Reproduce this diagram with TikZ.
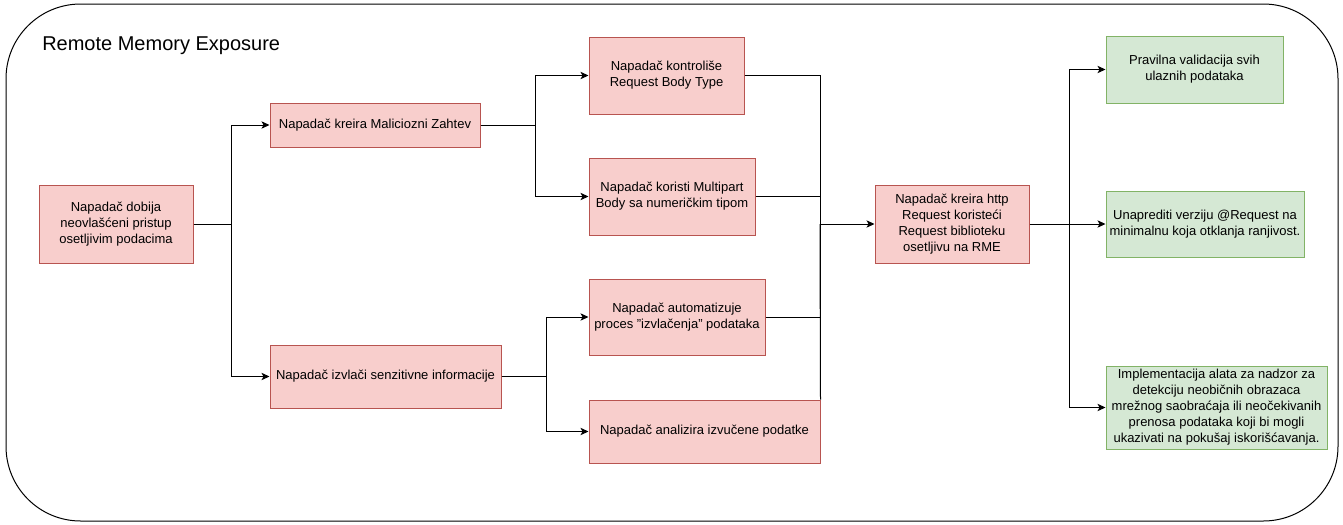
\documentclass[tikz,border=0pt]{standalone}
\usepackage{fontspec}
\setmainfont{Liberation Sans}
\usetikzlibrary{arrows.meta, calc}
\definecolor{napadfill}{HTML}{F8CECC}
\definecolor{napadline}{HTML}{B85450}
\definecolor{zastfill}{HTML}{D5E8D4}
\definecolor{zastline}{HTML}{82B366}
\tikzset{
    x=0.75pt, y=-0.75pt,
    dim/.style 2 args={minimum width=#1*0.75pt, minimum height=#2*0.75pt},
    korak/.style={draw=napadline, fill=napadfill, align=center, inner sep=0pt,
        line width=0.75pt, font=\fontsize{9.75}{12}\selectfont},
    zastita/.style={korak, draw=zastline, fill=zastfill},
    veza/.style={-{Stealth[length=6pt, width=5.5pt, inset=1.5pt]}, line width=0.75pt}
}
\begin{document}
\begin{tikzpicture}
    \useasboundingbox (0,0) rectangle (1343,525);
    \draw[rounded corners=56pt, line width=0.75pt] (6,4) rectangle (1338,521);
    \node[anchor=base west, inner sep=0pt, font=\fontsize{15}{18}\selectfont] (naslov) at (42,50) {Remote Memory Exposure};
    \node[korak, dim={154}{78}] (pristup) at (116,224) {Napadač dobija\\neovlašćeni pristup\\osetljivim podacima};
    \node[korak, dim={210}{44}] (kreira) at (375,125) {Napadač kreira Maliciozni Zahtev};
    \node[korak, dim={231}{63}] (izvlaci) at (385.5,376.5) {Napadač izvlači senzitivne informacije};
    \node[korak, dim={155}{77}] (kontrola) at (666.5,75.5) {Napadač kontroliše\\Request Body Type};
    \node[korak, dim={166}{77}] (multipart) at (672,196.5) {Napadač koristi Multipart\\Body sa numeričkim tipom};
    \node[korak, dim={176}{76}] (automat) at (677,317) {Napadač automatizuje\\proces "izvlačenja" podataka};
    \node[korak, dim={231}{63}] (analiza) at (704.5,431.5) {Napadač analizira izvučene podatke};
    \node[korak, dim={154}{78}] (http) at (952,224) {Napadač kreira http\\Request koristeći\\Request biblioteku\\osetljivu na RME};
    \node[zastita, dim={177}{67}] (validacija) at (1194.5,69.5) {Pravilna validacija svih\\ulaznih podataka};
    \node[zastita, dim={198}{66}] (verzija) at (1205,224) {Unaprediti verziju @Request na\\minimalnu koja otklanja ranjivost.};
    \node[zastita, dim={221}{83}] (nadzor) at (1216.5,407.5) {Implementacija alata za nadzor za\\detekciju neobičnih obrazaca\\mrežnog saobraćaja ili neočekivanih\\prenosa podataka koji bi mogli\\ukazivati na pokušaj iskorišćavanja.};
    \coordinate (spoj) at (820,224);
    \coordinate (grana) at (1069,224);
    \draw[veza] (pristup.east) -- ++(38,0) |- (kreira.west);
    \draw[veza] (pristup.east) -- ++(38,0) |- (izvlaci.west);
    \draw[veza] (kreira.east) -- ++(55,0) |- (kontrola.west);
    \draw[veza] (kreira.east) -- ++(55,0) |- (multipart.west);
    \draw[veza] (izvlaci.east) -- ++(45,0) |- (automat.west);
    \draw[veza] (izvlaci.east) -- ++(45,0) |- (analiza.west);
    \draw[veza] (kontrola.east) -| (spoj) -- (http.west);
    \draw[line width=0.75pt] (multipart.east) -| (spoj);
    \draw[line width=0.75pt] (automat.east) -| (spoj);
    \draw[line width=0.75pt] (analiza.north east) -- (spoj);
    \draw[veza] (http.east) -- (grana) |- (validacija.west);
    \draw[veza] (grana) -- (verzija.west);
    \draw[veza] (grana) |- (nadzor.west);
\end{tikzpicture}
\end{document}
